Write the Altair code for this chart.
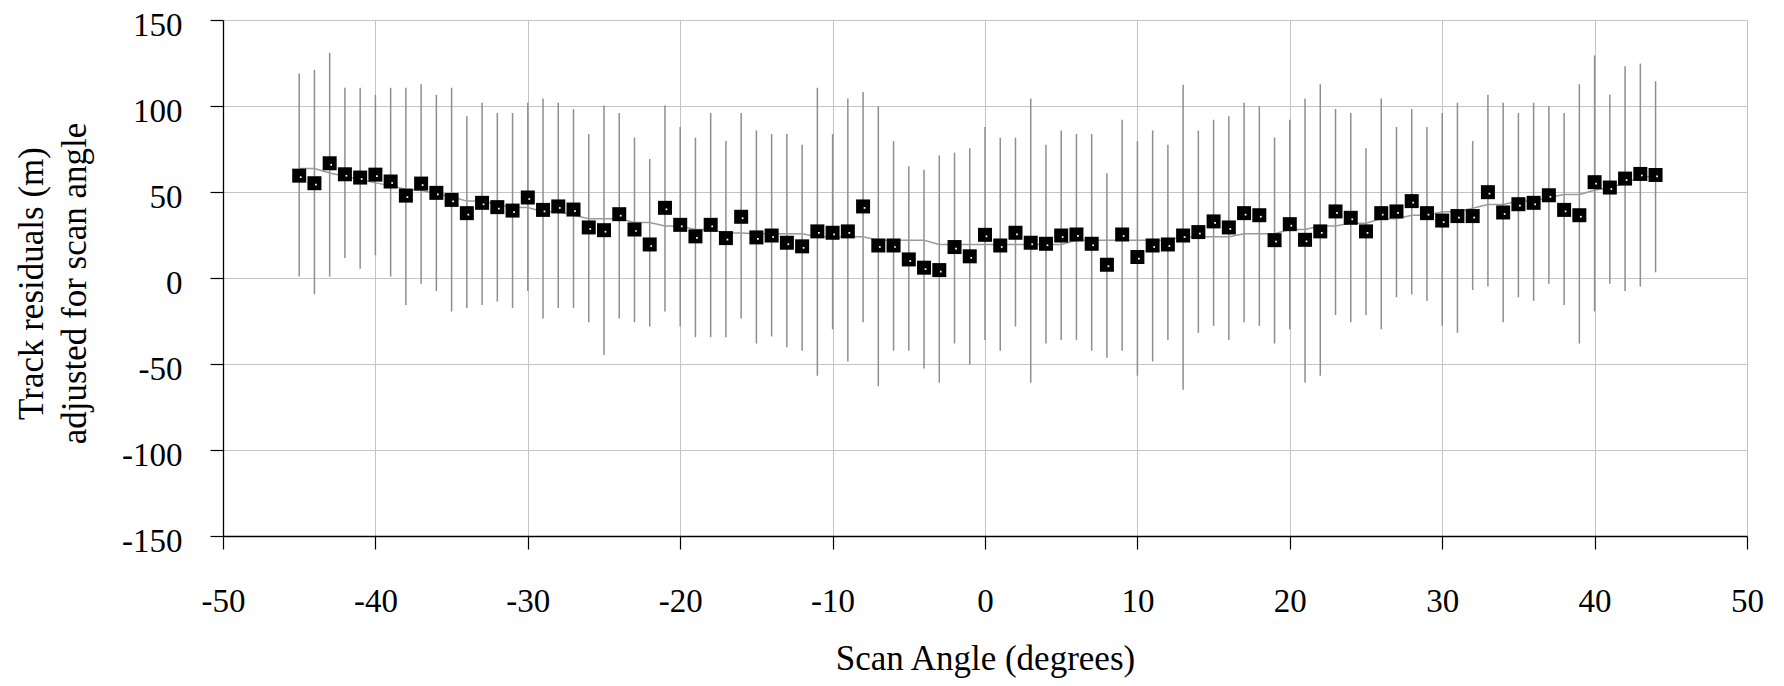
import altair as alt
import pandas as pd

# Scan angles (degrees)
angles = list(range(-45, 45))

# Mean track residual adjusted for scan angle (m)
residual = [59.5, 55.1, 66.7, 60.3, 58.4, 60.1, 56.1, 47.9, 54.9, 49.5,
            45.4, 37.7, 43.7, 41.2, 39.2, 46.8, 39.6, 41.6, 39.8, 29.4,
            27.8, 37.1, 28.2, 19.5, 40.8, 30.9, 24.2, 30.9, 23.2, 35.6,
            23.6, 24.7, 20.5, 18.4, 27.1, 26.3, 27.1, 41.6, 18.9, 18.9,
            10.8, 6.0, 4.6, 18.0, 12.6, 25.1, 18.9, 26.3, 20.5, 19.9,
            24.7, 25.3, 19.9, 7.7, 25.3, 12.2, 18.9, 19.5, 24.7, 26.7,
            32.9, 29.4, 37.7, 36.5, 22.0, 31.3, 22.2, 27.1, 38.7, 35.0,
            27.1, 37.7, 38.7, 44.7, 37.7, 33.4, 36.0, 36.0, 49.9, 38.1,
            42.9, 43.7, 48.1, 39.6, 36.5, 55.7, 52.6, 57.8, 60.5, 59.9]

# Upper end of the error bar
upper = [118.9, 121.0, 130.9, 110.6, 110.6, 106.5, 110.6, 110.6, 112.7, 106.5,
         110.6, 94.0, 101.9, 95.9, 95.9, 101.9, 104.4, 101.9, 98.2, 83.7,
         100.3, 95.9, 81.6, 69.2, 100.3, 87.8, 81.6, 95.9, 79.6, 95.9,
         85.8, 83.7, 83.7, 77.5, 110.6, 83.7, 104.4, 108.1, 99.9, 79.6,
         65.0, 63.0, 71.3, 72.9, 75.4, 87.8, 81.6, 81.6, 104.4, 77.5,
         85.8, 83.7, 83.7, 60.9, 92.0, 79.6, 85.8, 77.5, 112.3, 85.8,
         92.0, 94.0, 101.9, 99.9, 81.6, 92.0, 104.4, 112.7, 98.2, 95.9,
         75.4, 104.4, 87.8, 98.2, 87.8, 95.9, 101.9, 79.6, 106.5, 101.9,
         95.9, 101.9, 99.9, 95.9, 112.7, 129.3, 106.5, 123.1, 124.7, 114.4]

# Lower end of the error bar
lower = [0.8, -9.5, 0.8, 11.6, 5.4, 13.3, 0.8, -15.7, -3.3, -7.5,
         -19.5, -17.4, -15.7, -13.7, -17.4, -7.5, -23.6, -17.4, -17.4, -25.7,
         -44.7, -23.6, -25.7, -28.2, -19.5, -28.2, -34.4, -34.4, -34.4, -23.6,
         -38.1, -34.0, -40.2, -42.3, -56.8, -29.8, -48.5, -25.7, -63.0, -42.3,
         -42.3, -52.6, -60.9, -38.1, -50.5, -36.0, -42.3, -28.2, -60.9, -38.1,
         -36.0, -36.0, -42.3, -46.4, -42.3, -56.8, -48.5, -36.0, -65.0, -31.9,
         -27.8, -36.0, -25.7, -27.8, -38.1, -29.8, -60.9, -56.8, -21.5, -25.7,
         -21.5, -29.8, -11.2, -9.5, -13.3, -27.8, -31.9, -7.0, -5.0, -25.7,
         -11.2, -13.3, -3.3, -15.7, -38.1, -19.5, -3.3, -7.5, -5.0, 3.3]

# Smoothed fit (thin grey line)
fit = [63.6, 63.6, 61.0, 59.2, 57.2, 55.3, 53.7, 51.6, 51.0, 48.9,
       47.2, 44.7, 44.7, 42.7, 41.0, 41.0, 38.5, 38.5, 36.5, 34.4,
       34.4, 34.4, 32.3, 32.3, 30.2, 30.2, 28.2, 28.2, 26.1, 26.1,
       25.7, 25.7, 25.7, 25.7, 24.0, 24.0, 24.0, 24.0, 22.0, 22.0,
       22.0, 22.0, 19.5, 19.5, 19.5, 19.5, 19.5, 19.5, 19.5, 19.5,
       19.5, 22.0, 22.0, 22.0, 22.0, 22.0, 22.0, 22.0, 24.0, 24.0,
       24.0, 24.0, 25.7, 25.7, 25.7, 28.2, 28.2, 30.2, 30.2, 31.9,
       31.9, 34.4, 34.4, 36.5, 36.5, 38.5, 38.5, 40.6, 42.7, 42.7,
       44.7, 44.7, 46.8, 48.5, 48.5, 51.0, 52.6, 55.1, 58.8, 58.8]

x_ticks = [-50, -40, -30, -20, -10, 0, 10, 20, 30, 40, 50]
y_ticks = [-150, -100, -50, 0, 50, 100, 150]

x_title = "Scan Angle (degrees)"
y_title = ["Track residuals (m)", "adjusted for scan angle"]

df = pd.DataFrame({"angle": angles, "residual": residual,
                   "upper": upper, "lower": lower, "fit": fit})

FONT = "Liberation Serif"
W, H = 1524, 516

xscale = alt.Scale(domain=[-50, 50], nice=False, zero=False)
yscale = alt.Scale(domain=[-150, 150], nice=False, zero=False)

common = dict(
    grid=True, gridColor="#c4c4c4", gridWidth=1,
    domainColor="#000000", domainWidth=1.3,
    tickColor="#000000", tickWidth=1.2, tickSize=13,
    labelFont=FONT, labelFontSize=33, labelColor="#000000",
    labelFlush=False,
    titleFont=FONT, titleFontSize=35, titleFontWeight="normal",
    titleColor="#000000", labelExpr="'' + datum.value",
)

xaxis = alt.Axis(title=x_title, values=x_ticks, labelPadding=62,
                 labelBaseline="alphabetic",
                 titleY=133, titleBaseline="alphabetic", **common)
yaxis = alt.Axis(title=y_title, values=y_ticks, labelPadding=28,
                 labelOffset=5,
                 titleX=-181, titleY=263, titleAngle=-90,
                 titleAlign="center", titleBaseline="alphabetic",
                 titleLineHeight=43, **common)

X = alt.X("angle:Q", scale=xscale, axis=xaxis)

base = alt.Chart(df)

bars = base.mark_rule(color="#8e8e8e", strokeWidth=1.5).encode(
    x=X,
    y=alt.Y("lower:Q", scale=yscale, axis=yaxis),
    y2="upper:Q",
)

fitline = base.mark_line(color="#9a9a9a", strokeWidth=1.5).encode(
    x=X,
    y=alt.Y("fit:Q", scale=yscale, axis=yaxis),
)

points = base.mark_point(shape="square", filled=True, color="#000000",
                         size=196, opacity=1).encode(
    x=X,
    y=alt.Y("residual:Q", scale=yscale, axis=yaxis),
)

dots = base.mark_point(shape="square", filled=True, color="#ffffff",
                       size=3, opacity=1, xOffset=1.5, yOffset=1.5).encode(
    x=X,
    y=alt.Y("residual:Q", scale=yscale, axis=yaxis),
)

chart = alt.layer(bars, fitline, points, dots).properties(
    width=W, height=H,
    autosize=alt.AutoSizeParams(type="none"),
    padding={"left": 215, "top": 12, "right": 29, "bottom": 142},
    background="#ffffff",
).configure_view(stroke=None)

chart.save("out.html", embed_options={"renderer": "svg", "actions": False})
